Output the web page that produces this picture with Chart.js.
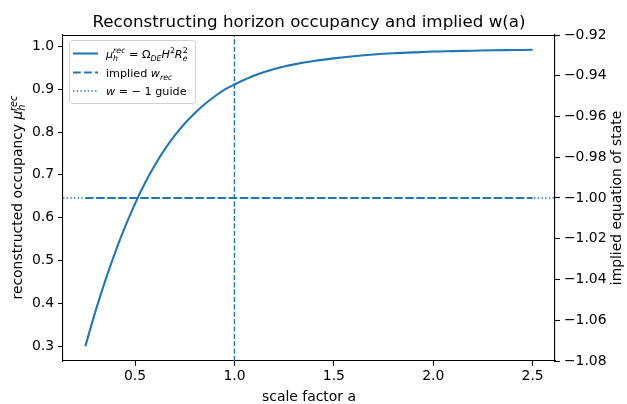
<!DOCTYPE html>
<html>
<head>
<meta charset="utf-8">
<script src="https://cdn.jsdelivr.net/npm/chart.js@4.4.1/dist/chart.umd.min.js"></script>
<style>
html,body{margin:0;padding:0;background:#fff;}
#wrap{width:627px;height:404px;position:relative;}
</style>
</head>
<body>
<div id="wrap"><canvas id="chart" width="627" height="404"></canvas></div>
<script>
// DATA
var aVals = [0.25,0.30,0.35,0.40,0.45,0.50,0.55,0.60,0.65,0.70,0.75,0.80,0.85,0.90,0.95,1.00,
  1.05,1.10,1.15,1.20,1.25,1.30,1.40,1.50,1.60,1.70,1.80,1.90,2.00,2.10,2.20,2.30,2.40,2.50];
var muRec = [0.300,0.380,0.453,0.519,0.579,0.633,0.681,0.723,0.760,0.792,0.820,0.844,0.865,0.883,0.899,0.911,
  0.922,0.932,0.940,0.947,0.953,0.958,0.966,0.972,0.977,0.981,0.984,0.986,0.988,0.989,0.990,0.991,0.9915,0.992];
var wA = [0.25,0.50,0.75,1.00,1.25,1.50,1.75,2.00,2.25,2.50];
var wRec = [-1.0,-1.0,-1.0,-1.0,-1.0,-1.0,-1.0,-1.0,-1.0,-1.0];
var wGuide = -1.0;
var aToday = 1.0;

var xTicks = [0.5,1.0,1.5,2.0,2.5];
var yTicks = [0.3,0.4,0.5,0.6,0.7,0.8,0.9,1.0];
var y2Ticks = [-1.08,-1.06,-1.04,-1.02,-1.00,-0.98,-0.96,-0.94,-0.92];

var X_MIN = 0.1375, X_MAX = 2.6125;
var Y_MIN = 0.2654, Y_MAX = 1.0266;
var Y2_MIN = -1.08, Y2_MAX = -0.92;

var BLUE = "#1f77b4";
var FONT = "'DejaVu Sans', sans-serif";
var PT = 100/72;

// -----------------------------
function pts(xs, ys){ return xs.map(function(x,i){ return {x:x, y:ys[i]}; }); }

function fmt(v, d){
  var s = Math.abs(v).toFixed(d);
  return (v < 0 ? "\u2212" : "") + s;
}

// rich text: segments [text, italic, pos] pos: 0 base, -1 sub, 1 sup
function richWidth(ctx, segs, size){
  var w = 0;
  segs.forEach(function(s){
    var fs = s[2] ? size*0.7 : size;
    ctx.font = (s[1] ? "italic " : "") + fs + "px " + FONT;
    w += ctx.measureText(s[0]).width;
  });
  return w;
}
function richText(ctx, segs, x, y, size){
  ctx.textBaseline = "alphabetic";
  ctx.textAlign = "left";
  segs.forEach(function(s){
    var fs = s[2] ? size*0.7 : size;
    ctx.font = (s[1] ? "italic " : "") + fs + "px " + FONT;
    var dy = s[2] === 1 ? -size*0.38 : (s[2] === -1 ? size*0.2 : 0);
    ctx.fillText(s[0], x, y + dy);
    x += ctx.measureText(s[0]).width;
  });
  return x;
}

// -----------------------------
var decor = {
  id: "decor",
  afterDraw: function(chart){
    var ctx = chart.ctx, ca = chart.chartArea;
    ctx.save();
    // top spine
    ctx.strokeStyle = "#000"; ctx.lineWidth = 1.1;
    ctx.beginPath(); ctx.moveTo(ca.left, ca.top+0.5); ctx.lineTo(ca.right, ca.top+0.5); ctx.stroke();

    ctx.fillStyle = "#000";
    // title
    ctx.font = "16.7px " + FONT;
    ctx.textAlign = "center"; ctx.textBaseline = "alphabetic";
    ctx.fillText("Reconstructing horizon occupancy and implied w(a)", (ca.left+ca.right)/2, 26.5);

    // x label
    ctx.font = "13.9px " + FONT;
    ctx.fillText("scale factor a", (ca.left+ca.right)/2, 401);

    var cy = (ca.top+ca.bottom)/2;
    // left y label
    var segL = [["reconstructed occupancy ",0,0],["\u03bc",1,0],["h",1,-1]];
    var wL = richWidth(ctx, segL, 13.9);
    ctx.save();
    ctx.translate(22, cy); ctx.rotate(-Math.PI/2);
    var xe = richText(ctx, segL, -wL/2 - 4, 0, 13.9);
    ctx.font = "italic " + (13.9*0.7) + "px " + FONT;
    ctx.fillText("rec", xe - 6.5, -13.9*0.38);
    ctx.restore();

    // right y label
    ctx.save();
    ctx.translate(621, cy); ctx.rotate(-Math.PI/2);
    ctx.font = "13.9px " + FONT; ctx.textAlign = "center";
    ctx.fillText("implied equation of state", 0, 0);
    ctx.restore();

    // legend
    var lx = 69, ly = 40, lw = 126, lh = 63, r = 3;
    ctx.fillStyle = "rgba(255,255,255,0.8)";
    ctx.strokeStyle = "#d0d0d0"; ctx.lineWidth = 1;
    ctx.beginPath();
    ctx.roundRect(lx+0.5, ly+0.5, lw, lh, r);
    ctx.fill(); ctx.stroke();

    var rows = [53.5, 72.5, 91];
    ctx.strokeStyle = BLUE;
    ctx.lineWidth = 1.5*PT; ctx.setLineDash([]);
    ctx.beginPath(); ctx.moveTo(73, rows[0]); ctx.lineTo(98, rows[0]); ctx.stroke();
    ctx.setLineDash([5.55*PT, 2.4*PT]);
    ctx.beginPath(); ctx.moveTo(73, rows[1]); ctx.lineTo(98, rows[1]); ctx.stroke();
    ctx.lineWidth = PT; ctx.setLineDash([PT, 1.65*PT]);
    ctx.beginPath(); ctx.moveTo(73, rows[2]); ctx.lineTo(98, rows[2]); ctx.stroke();
    ctx.setLineDash([]);

    ctx.fillStyle = "#000";
    var fs = 11.2;
    // row 1: mu_h^rec = Omega_DE H^2 R_e^2
    var x = 106, by = rows[0] + 4;
    x = richText(ctx, [["\u03bc",1,0]], x, by, fs);
    var xs = x;
    richText(ctx, [["h",1,-1]], xs, by+1, fs);
    x = richText(ctx, [["rec",1,1]], xs, by, fs);
    x = richText(ctx, [[" = ",0,0],["\u03a9",0,0]], x, by, fs);
    x = richText(ctx, [["DE",1,-1]], x, by+1, fs);
    x = richText(ctx, [["H",1,0],["2",0,1]], x, by, fs);
    x = richText(ctx, [["R",1,0]], x, by, fs);
    xs = x;
    richText(ctx, [["e",1,-1]], xs, by+1, fs);
    richText(ctx, [["2",0,1]], xs, by, fs);
    // row 2
    x = richText(ctx, [["implied ",0,0],["w",1,0]], 106, rows[1]+4, fs);
    richText(ctx, [["rec",1,-1]], x, rows[1]+5, fs);
    // row 3
    richText(ctx, [["w",1,0],[" = \u2212 1 guide",0,0]], 106, rows[2]+4, fs);

    ctx.restore();
  }
};

// -----------------------------
var tickFont = {family: FONT, size: 13.9};
var axisGrid = {drawOnChartArea: false, drawTicks: true, tickLength: 4.9, tickWidth: 1.1, color: "#000"};
var axisBorder = {display: true, color: "#000", width: 1.1};

var chart = new Chart(document.getElementById("chart"), {
  type: "line",
  data: {
    datasets: [
      {
        label: "mu_rec",
        data: pts(aVals, muRec),
        yAxisID: "y",
        borderColor: BLUE, borderWidth: 1.5*PT,
        pointRadius: 0, cubicInterpolationMode: "monotone",
        fill: false
      },
      {
        label: "implied w_rec",
        data: pts(wA, wRec),
        yAxisID: "y1",
        borderColor: BLUE, borderWidth: 1.5*PT, borderDash: [5.55*PT, 2.4*PT],
        pointRadius: 0, fill: false
      },
      {
        label: "w = -1 guide",
        data: pts([X_MIN, X_MAX], [wGuide, wGuide]),
        yAxisID: "y1",
        borderColor: BLUE, borderWidth: PT, borderDash: [PT, 1.65*PT],
        pointRadius: 0, fill: false
      },
      {
        label: "a = 1",
        data: pts([aToday, aToday], [Y_MIN, Y_MAX]),
        yAxisID: "y",
        borderColor: BLUE, borderWidth: PT, borderDash: [3.7*PT, 1.6*PT],
        pointRadius: 0, fill: false
      }
    ]
  },
  options: {
    responsive: false,
    animation: false,
    layout: {padding: {top: 35, right: 0, bottom: 0, left: 0}},
    plugins: {legend: {display: false}, title: {display: false}, tooltip: {enabled: false}},
    scales: {
      x: {
        type: "linear", min: X_MIN, max: X_MAX,
        afterBuildTicks: function(s){ s.ticks = xTicks.map(function(v){ return {value:v}; }); },
        afterFit: function(s){ s.height = 43; },
        ticks: {color: "#000", font: tickFont, padding: 2, maxRotation: 0,
          callback: function(v){ return fmt(v,1); }},
        grid: axisGrid,
        border: axisBorder
      },
      y: {
        type: "linear", position: "left", min: Y_MIN, max: Y_MAX,
        afterBuildTicks: function(s){ s.ticks = yTicks.map(function(v){ return {value:v}; }); },
        afterFit: function(s){ s.width = 63; },
        ticks: {color: "#000", font: tickFont, padding: 4,
          callback: function(v){ return fmt(v,1); }},
        grid: axisGrid,
        border: axisBorder
      },
      y1: {
        type: "linear", position: "right", min: Y2_MIN, max: Y2_MAX,
        afterBuildTicks: function(s){ s.ticks = y2Ticks.map(function(v){ return {value:v}; }); },
        afterFit: function(s){ s.width = 72; },
        ticks: {color: "#000", font: tickFont, padding: 4,
          callback: function(v){ return fmt(v,2); }},
        grid: axisGrid,
        border: axisBorder
      }
    }
  },
  plugins: [decor]
});
</script>
</body>
</html>
